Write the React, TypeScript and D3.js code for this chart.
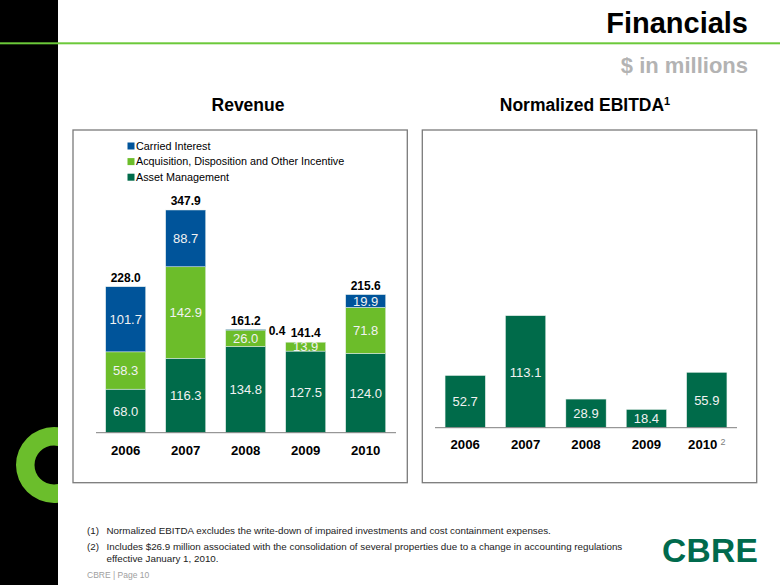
import React from 'react';
import * as d3 from 'd3';

const years = ['2006', '2007', '2008', '2009', '2010'];
const assetManagement = [68.0, 116.3, 134.8, 127.5, 124.0];
const acquisitionIncentive = [58.3, 142.9, 26.0, 13.9, 71.8];
const carriedInterest = [101.7, 88.7, 0.4, 0, 19.9];
const revenueTotals = [228.0, 347.9, 161.2, 141.4, 215.6];
const ebitda = [52.7, 113.1, 28.9, 18.4, 55.9];
const legendLabels = ['Carried  Interest', 'Acquisition, Disposition and Other Incentive', 'Asset Management'];
const footnotes = [
  'Normalized EBITDA excludes the write-down of impaired investments and cost containment expenses.',
  'Includes $26.9 million associated with the consolidation of several properties due to a change in accounting regulations',
  'effective January 1, 2010.',
];

const FONT = '"Liberation Sans", Arial, Helvetica, sans-serif';
const C_DARK = '#006B4A';
const C_LIGHT = '#6CBD2A';
const C_BLUE = '#00549A';
const keys = ['am', 'acq', 'ci'];
const colorOf: Record<string, string> = { am: C_DARK, acq: C_LIGHT, ci: C_BLUE };

export default function App() {
  const rows = years.map((y, i) => ({
    year: y,
    am: assetManagement[i],
    acq: acquisitionIncentive[i],
    ci: carriedInterest[i],
  }));
  const stacked = d3.stack<any>().keys(keys)(rows);

  const xL = d3.scaleBand<string>().domain(years).range([95.7, 395.7]).paddingInner(1 / 3).paddingOuter(1 / 6);
  const yL = d3.scaleLinear().domain([0, 347.9]).range([432.7, 210]);

  const xR = d3.scaleBand<string>().domain(years).range([435, 737]).paddingInner(1 / 3).paddingOuter(1 / 6);
  const yR = d3.scaleLinear().domain([0, 113.1]).range([427.7, 315.7]);

  const ring = d3.arc()({ innerRadius: 19.5, outerRadius: 38, startAngle: 0, endAngle: Math.PI * 2 } as any) || '';

  return (
    <svg width={780} height={585} style={{ position: 'absolute', left: 0, top: 0, background: '#fff' }} fontFamily={FONT}>
      <defs>
        <clipPath id="band">
          <rect x={0} y={0} width={58} height={585} />
        </clipPath>
      </defs>
      <rect x={0} y={0} width={780} height={585} fill="#fff" />
      <rect x={0} y={0} width={58} height={585} fill="#000" />
      <g clipPath="url(#band)">
        <path d={ring} transform="translate(54,465)" fill="#6BBE2C" />
      </g>
      <rect x={0} y={42.3} width={780} height={2} fill="#6CC93A" />

      <text x={748} y={33} textAnchor="end" fontSize={29} fontWeight="bold" fill="#000">Financials</text>
      <text x={748} y={73} textAnchor="end" fontSize={22} fontWeight="bold" fill="#B3B3B3">$ in millions</text>

      <text x={248} y={111} textAnchor="middle" fontSize={17.5} fontWeight="bold" fill="#000">Revenue</text>
      <text x={585} y={111} textAnchor="middle" fontSize={17.5} fontWeight="bold" fill="#000">
        Normalized EBITDA<tspan fontSize={11} dy={-6}>1</tspan>
      </text>

      {/* panels */}
      <rect x={73} y={130} width={334.3} height={352.7} fill="none" stroke="#7A7A7A" strokeWidth={1.3} />
      <rect x={422.3} y={130} width={334.4} height={352.7} fill="none" stroke="#7A7A7A" strokeWidth={1.3} />

      {/* legend */}
      {legendLabels.map((l, i) => (
        <g key={l}>
          <rect x={127.5} y={142.5 + i * 15.6} width={7} height={7} fill={[C_BLUE, C_LIGHT, C_DARK][i]} />
          <text x={136} y={149.8 + i * 15.6} fontSize={10.8} fill="#000">{l}</text>
        </g>
      ))}

      {/* revenue stacked bars */}
      {stacked.map((s) => (
        <g key={s.key}>
          {s.map((d, i) => {
            const v = d[1] - d[0];
            if (v <= 0) return null;
            const x = xL(years[i]) as number;
            const y0 = yL(d[0]);
            const y1 = yL(d[1]);
            return (
              <rect key={i} x={x} y={y1} width={xL.bandwidth()} height={Math.max(0.8, y0 - y1)}
                fill={colorOf[s.key]} stroke="#E8F0EC" strokeWidth={0.5} />
            );
          })}
        </g>
      ))}
      {stacked.map((s) => (
        <g key={'l' + s.key}>
          {s.map((d, i) => {
            const v = d[1] - d[0];
            if (v <= 0) return null;
            const x = xL(years[i]) as number;
            if (v < 1) {
              return (
                <text key={i} x={x + xL.bandwidth() + 3} y={yL(d[1]) + 5.5} fontSize={12} fontWeight="bold" fill="#000">
                  {v.toFixed(1)}
                </text>
              );
            }
            const cy = (yL(d[0]) + yL(d[1])) / 2;
            return (
              <text key={i} x={x + xL.bandwidth() / 2} y={cy + 4.8} textAnchor="middle" fontSize={13} fill="#F2F2F2">
                {v.toFixed(1)}
              </text>
            );
          })}
        </g>
      ))}
      {revenueTotals.map((t, i) => (
        <text key={i} x={(xL(years[i]) as number) + xL.bandwidth() / 2} y={yL(t) - 5} textAnchor="middle"
          fontSize={12} fontWeight="bold" fill="#000">{t.toFixed(1)}</text>
      ))}
      <line x1={96} x2={396} y1={432.7} y2={432.7} stroke="#7F7F7F" strokeWidth={1} />
      {years.map((y) => (
        <text key={y} x={(xL(y) as number) + xL.bandwidth() / 2} y={454.5} textAnchor="middle"
          fontSize={13.2} fontWeight="bold" fill="#000">{y}</text>
      ))}

      {/* EBITDA bars */}
      {ebitda.map((v, i) => {
        const x = xR(years[i]) as number;
        return (
          <g key={i}>
            <rect x={x} y={yR(v)} width={xR.bandwidth()} height={yR(0) - yR(v)} fill={C_DARK} stroke="#E8F0EC" strokeWidth={0.5} />
            <text x={x + xR.bandwidth() / 2} y={(yR(0) + yR(v)) / 2 + 4.8} textAnchor="middle" fontSize={13} fill="#F2F2F2">
              {v.toFixed(1)}
            </text>
          </g>
        );
      })}
      <line x1={435} x2={737} y1={427.7} y2={427.7} stroke="#7F7F7F" strokeWidth={1} />
      {years.map((y, i) => (
        <text key={y} x={(xR(y) as number) + xR.bandwidth() / 2} y={449} textAnchor="middle"
          fontSize={13.2} fontWeight="bold" fill="#000">
          {y}
          {i === years.length - 1 ? <tspan fontSize={9} fontWeight="normal" fill="#808080" dx={3} dy={-4}>2</tspan> : null}
        </text>
      ))}

      {/* footnotes */}
      <text x={87} y={533.5} fontSize={9.8} fill="#222">(1)</text>
      <text x={106.5} y={533.5} fontSize={9.8} fill="#222">{footnotes[0]}</text>
      <text x={87} y={549.5} fontSize={9.8} fill="#222">(2)</text>
      <text x={106.5} y={549.5} fontSize={9.8} fill="#222">{footnotes[1]}</text>
      <text x={106.5} y={562} fontSize={9.8} fill="#222">{footnotes[2]}</text>
      <text x={87} y={578} fontSize={8.5} fill="#A0A0A0">CBRE  |  Page 10</text>

      <text x={662} y={562} fontSize={33.5} fontWeight="bold" fill="#006A4D" letterSpacing={0.3}>CBRE</text>
    </svg>
  );
}
